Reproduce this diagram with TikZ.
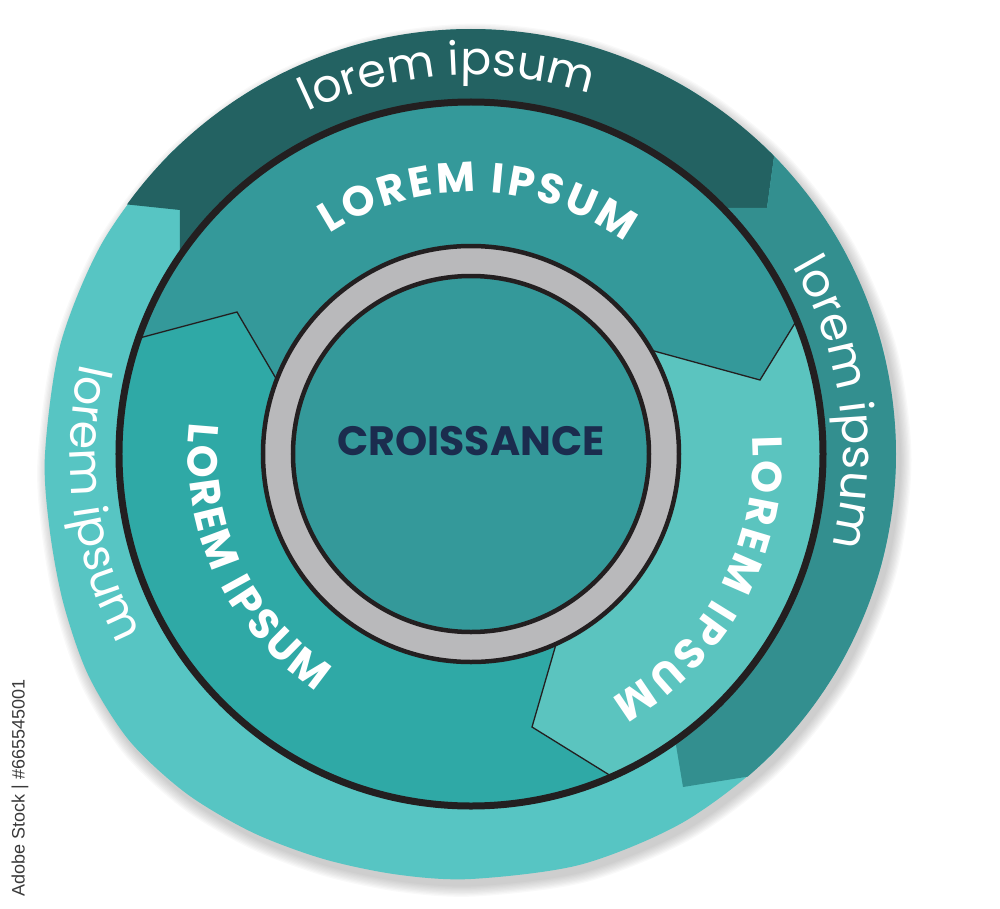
\documentclass[tikz,border=0pt]{standalone}
\usepackage{fontspec}
\newfontfamily\pop{Poppins}
\newfontfamily\wmfont{Liberation Sans}
\usetikzlibrary{decorations.text}
\definecolor{lightT}{HTML}{57C5C3}
\definecolor{medT}{HTML}{338F8F}
\definecolor{darkT}{HTML}{236262}
\definecolor{midTop}{HTML}{34999A}
\definecolor{midLeft}{HTML}{2FA9A6}
\definecolor{midRight}{HTML}{5BC4BF}
\definecolor{coreC}{HTML}{34999A}
\definecolor{ringG}{HTML}{B9B9BB}
\definecolor{lineK}{HTML}{231F20}
\definecolor{navyT}{HTML}{1B2C4E}
\definecolor{wmGray}{HTML}{3A3A3A}
\newcommand\outlinepath{plot[smooth cycle] coordinates {(0:425) (15:425) (30:425) (45:425) (60:425) (75:425) (90:425) (105:425) (120:425) (135:425) (150:425) (165:425) (180:426) (190:428) (200:434) (210:442) (220:446) (230:443) (240:437) (250:431) (260:427) (270:425) (285:425) (300:425) (315:425) (330:425) (345:425)}}
\tikzset{
  outertext/.style={decorate, decoration={text along path, text align=center, text color=white,
     text={|\pop\fontsize{46}{50}\selectfont|#1}}},
  midtext/.style={decorate, decoration={text along path, text align=center, text color=white,
     text={|\pop\bfseries\fontsize{42}{46}\selectfont\kern3pt|#1}}},
  chevron/.style={draw=lineK, line width=1.3pt, line join=miter},
}
\begin{document}
\begin{tikzpicture}[x=1pt,y=1pt]
\useasboundingbox (-471,-454) rectangle (529,454);
% soft shadow
\foreach \k in {1,...,9}{
  \pgfmathsetmacro\s{1+0.003*\k}
  \fill[black, opacity=0.022, shift={(4,-6)}, scale=\s] \outlinepath;
}
% outer band
\fill[lightT] \outlinepath;
\coordinate (P1) at (144.04:425);
\coordinate (P2) at (-291,244);
\coordinate (Q1) at (44.5:425);
\coordinate (Q2) at (296,246);
\coordinate (Q3) at (249,246);
\coordinate (S2) at (212,-333);
\coordinate (S3) at (203.9,-284.4);
\fill[darkT] (P1) arc[start angle=144.04, end angle=44.5, radius=425pt] -- (Q2) -- (Q3)
   arc[start angle=44.66, end angle=146.3, radius=350pt] -- (P2) -- cycle;
\fill[medT] (Q1) arc[start angle=44.5, end angle=-49.4, radius=425pt] -- (S2) -- (S3)
   arc[start angle=-54.36, end angle=44.66, radius=350pt] -- (Q2) -- cycle;
% middle band
\coordinate (A1) at (160.8:352);
\coordinate (T1) at (-234,142);
\coordinate (A2) at (159.3:207);
\coordinate (B1) at (30.2:207);
\coordinate (T2) at (289,74);
\coordinate (B2) at (22.3:352);
\coordinate (C1) at (-65.6:207);
\coordinate (T3) at (61,-273);
\coordinate (C2) at (-66.4:352);
\fill[midTop] (A1) arc[start angle=160.8, end angle=22.3, radius=352pt] -- (T2) -- (B1)
   arc[start angle=30.2, end angle=159.3, radius=207pt] -- (T1) -- cycle;
\fill[midRight] (B2) arc[start angle=22.3, end angle=-66.4, radius=352pt] -- (T3) -- (C1)
   arc[start angle=-65.6, end angle=30.2, radius=207pt] -- (T2) -- cycle;
\fill[midLeft] (C2) arc[start angle=-66.4, end angle=-199.2, radius=352pt] -- (T1) -- (A2)
   arc[start angle=-200.7, end angle=-65.6, radius=207pt] -- (T3) -- cycle;
\path[chevron] (A1) -- (T1) -- (A2);
\path[chevron] (B2) -- (T2) -- (B1);
\path[chevron] (C2) -- (T3) -- (C1);
% black circle
\draw[lineK, line width=7pt] (0,0) circle (352pt);
% grey ring and core
\fill[ringG] (0,0) circle (208pt);
\draw[lineK, line width=4.5pt] (0,0) circle (208pt);
\fill[coreC] (0,0) circle (178pt);
\draw[lineK, line width=4.5pt] (0,0) circle (178pt);
\node[font=\pop\bfseries\fontsize{41}{45}\selectfont, text=navyT] (title) at (0,13) {CROISSANCE};
% outer texts
\path[outertext={lorem ipsum}] (138.6:379) arc[start angle=138.6, end angle=48.6, radius=379pt];
\path[outertext={lorem ipsum}] (53:372) arc[start angle=53, end angle=-37, radius=372pt];
\path[outertext={lorem ipsum}] (142.6:401) arc[start angle=142.6, end angle=232.6, radius=401pt];
% middle texts
\path[midtext={LOREM IPSUM}] (138.65:262) arc[start angle=138.65, end angle=38.65, radius=262pt];
\path[midtext={LOREM IPSUM}] (22:282) arc[start angle=22, end angle=-78, radius=282pt];
\path[midtext={LOREM IPSUM}] (155:283) arc[start angle=155, end angle=255, radius=283pt];
% watermark label
\node[rotate=90, font=\wmfont\fontsize{18}{20}\selectfont, text=wmGray] (wm) at (-451,-334) {Adobe Stock | \#665545001};
\end{tikzpicture}
\end{document}
